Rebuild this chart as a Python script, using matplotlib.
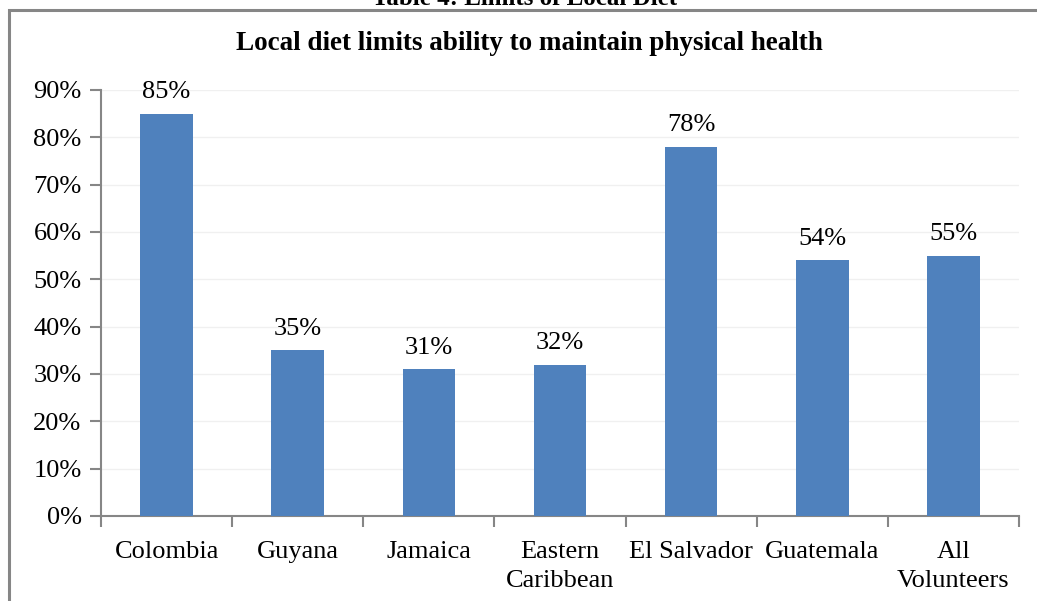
import matplotlib.pyplot as plt
from matplotlib.patches import Rectangle

categories = ['Colombia', 'Guyana', 'Jamaica', 'Eastern\nCaribbean',
              'El Salvador', 'Guatemala', 'All\nVolunteers']
values = [85, 35, 31, 32, 78, 54, 55]
yticks = [0, 10, 20, 30, 40, 50, 60, 70, 80, 90]

plt.rcParams['font.family'] = ['Liberation Serif', 'DejaVu Serif']

W, H = 1037, 601
fig = plt.figure(figsize=(W / 100, H / 100), dpi=100)
ax = fig.add_axes([101 / W, 1 - 516 / H, (1019 - 101) / W, (516 - 90) / H])

# outer frame of the chart object (cut off at right and bottom)
fig.patches.append(Rectangle((8.5 / W, -0.05), 1.2, 1 - 10.5 / H + 0.05,
                             transform=fig.transFigure, fill=False,
                             edgecolor='#868686', linewidth=2.2))

# cropped caption above the chart
fig.text(525 / W, 1 - 5 / H, 'Table 4: Limits of Local Diet', ha='center',
         va='baseline', fontsize=18, fontweight='bold')

fig.text(529 / W, 1 - 44 / H, 'Local diet limits ability to maintain physical health',
         ha='center', va='center', fontsize=19.5, fontweight='bold')

x = list(range(len(categories)))
ax.bar(x, values, width=0.4, color='#4F81BD', zorder=3)
for xi, v in zip(x, values):
    ax.text(xi, v + 2.2, f'{v}%', ha='center', va='bottom', fontsize=19)

ax.set_xlim(-0.5, len(categories) - 0.5)
ax.set_ylim(0, 90)
ax.set_yticks(yticks)
ax.set_yticklabels([f'{t}%' for t in yticks], fontsize=19)
ax.yaxis.grid(True, color='#F0F0F0', linewidth=1, zorder=0)

ax.set_xticks(x)
ax.set_xticklabels(categories, fontsize=19, linespacing=1.4)
ax.set_xticks([i - 0.5 for i in range(len(categories) + 1)], minor=True)
ax.tick_params(axis='x', which='major', length=0, pad=18)
ax.tick_params(axis='x', which='minor', length=8, width=1.5, color='#868686')
ax.tick_params(axis='y', length=8, width=1.5, color='#868686', pad=6)

for s in ['top', 'right']:
    ax.spines[s].set_visible(False)
for s in ['left', 'bottom']:
    ax.spines[s].set_color('#868686')
    ax.spines[s].set_linewidth(1.5)

fig.savefig('out.png', dpi=100)
